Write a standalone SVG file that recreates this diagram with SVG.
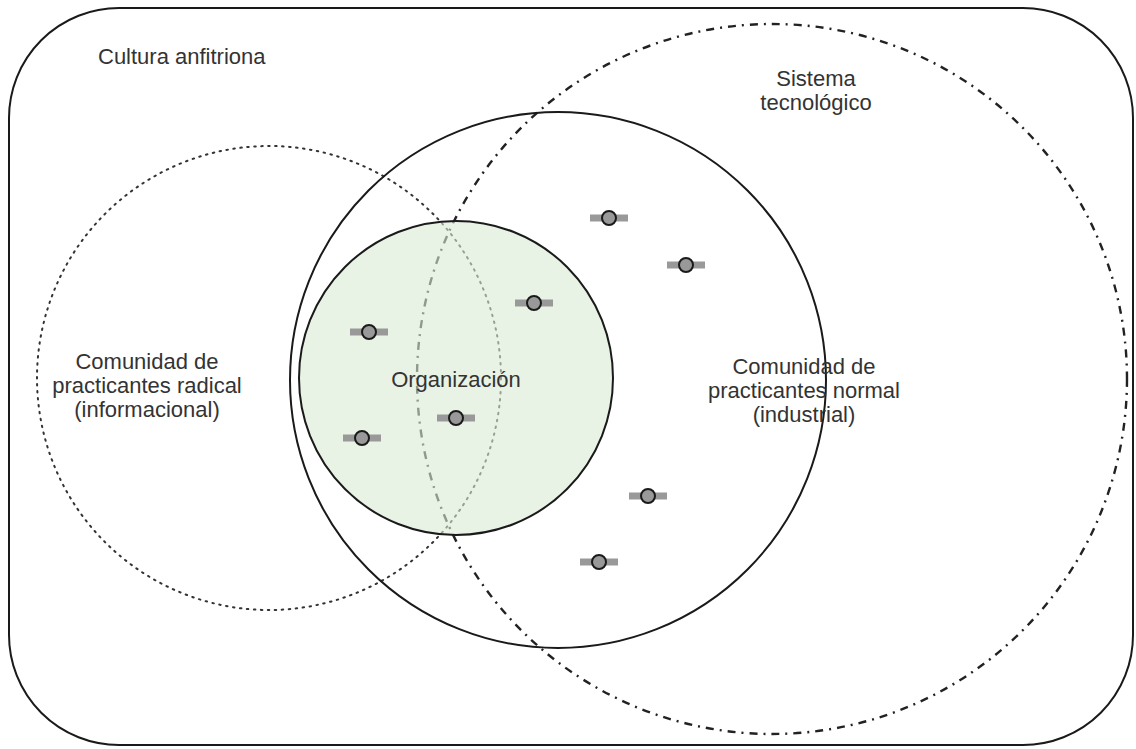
<svg xmlns="http://www.w3.org/2000/svg" width="1136" height="749" viewBox="0 0 1136 749">
  <style>
    .lbl { font-family: "Liberation Sans", Arial, sans-serif; font-size: 22px; fill: #333; }
    .mid { text-anchor: middle; }
    .edge { fill: none; stroke: #1a1a1a; stroke-width: 2; }
    .dotted { fill: none; stroke: #333; stroke-width: 2; stroke-dasharray: 1.5 5.5; stroke-linecap: round; }
    .dashdot { fill: none; stroke: #222; stroke-width: 2.4; stroke-dasharray: 8 6 2 6; }
    .bar { fill: #999; }
    .head { fill: #999; stroke: #1a1a1a; stroke-width: 2; }
  </style>
  <defs>
    <g id="member">
      <rect class="bar" x="-19" y="-3.5" width="38" height="7"/>
      <circle class="head" r="7"/>
    </g>
  </defs>

  <rect width="1136" height="749" fill="#ffffff"/>

  <!-- host culture boundary -->
  <g id="cultura">
    <rect class="edge" x="9" y="8" width="1124" height="737" rx="110" ry="110"/>
    <text class="lbl" x="98" y="64">Cultura anfitriona</text>
  </g>

  <!-- radical community (dotted) -->
  <g id="comunidad-radical">
    <circle class="dotted" cx="269" cy="378" r="232"/>
    <text class="lbl mid" x="147" y="369">Comunidad de</text>
    <text class="lbl mid" x="147" y="393">practicantes radical</text>
    <text class="lbl mid" x="147" y="417">(informacional)</text>
  </g>

  <!-- technological system (dash-dot) -->
  <g id="sistema-tecnologico">
    <circle class="dashdot" cx="772" cy="379" r="355"/>
    <text class="lbl mid" x="816" y="86">Sistema</text>
    <text class="lbl mid" x="816" y="110">tecnológico</text>
  </g>

  <!-- normal community (solid) -->
  <g id="comunidad-normal">
    <circle class="edge" cx="558" cy="380" r="268"/>
    <text class="lbl mid" x="804" y="374">Comunidad de</text>
    <text class="lbl mid" x="804" y="398">practicantes normal</text>
    <text class="lbl mid" x="804" y="422">(industrial)</text>
  </g>

  <!-- organization -->
  <g id="organizacion">
    <circle cx="456" cy="378" r="157" fill="#d9ead3" fill-opacity="0.6" stroke="#1a1a1a" stroke-width="2"/>
    <text class="lbl mid" x="456" y="387">Organización</text>
  </g>

  <!-- members -->
  <g id="miembros">
    <use href="#member" x="369" y="332"/>
    <use href="#member" x="534" y="303"/>
    <use href="#member" x="609" y="218"/>
    <use href="#member" x="686" y="265"/>
    <use href="#member" x="362" y="438"/>
    <use href="#member" x="456" y="418"/>
    <use href="#member" x="648" y="496"/>
    <use href="#member" x="599" y="562"/>
  </g>
</svg>
